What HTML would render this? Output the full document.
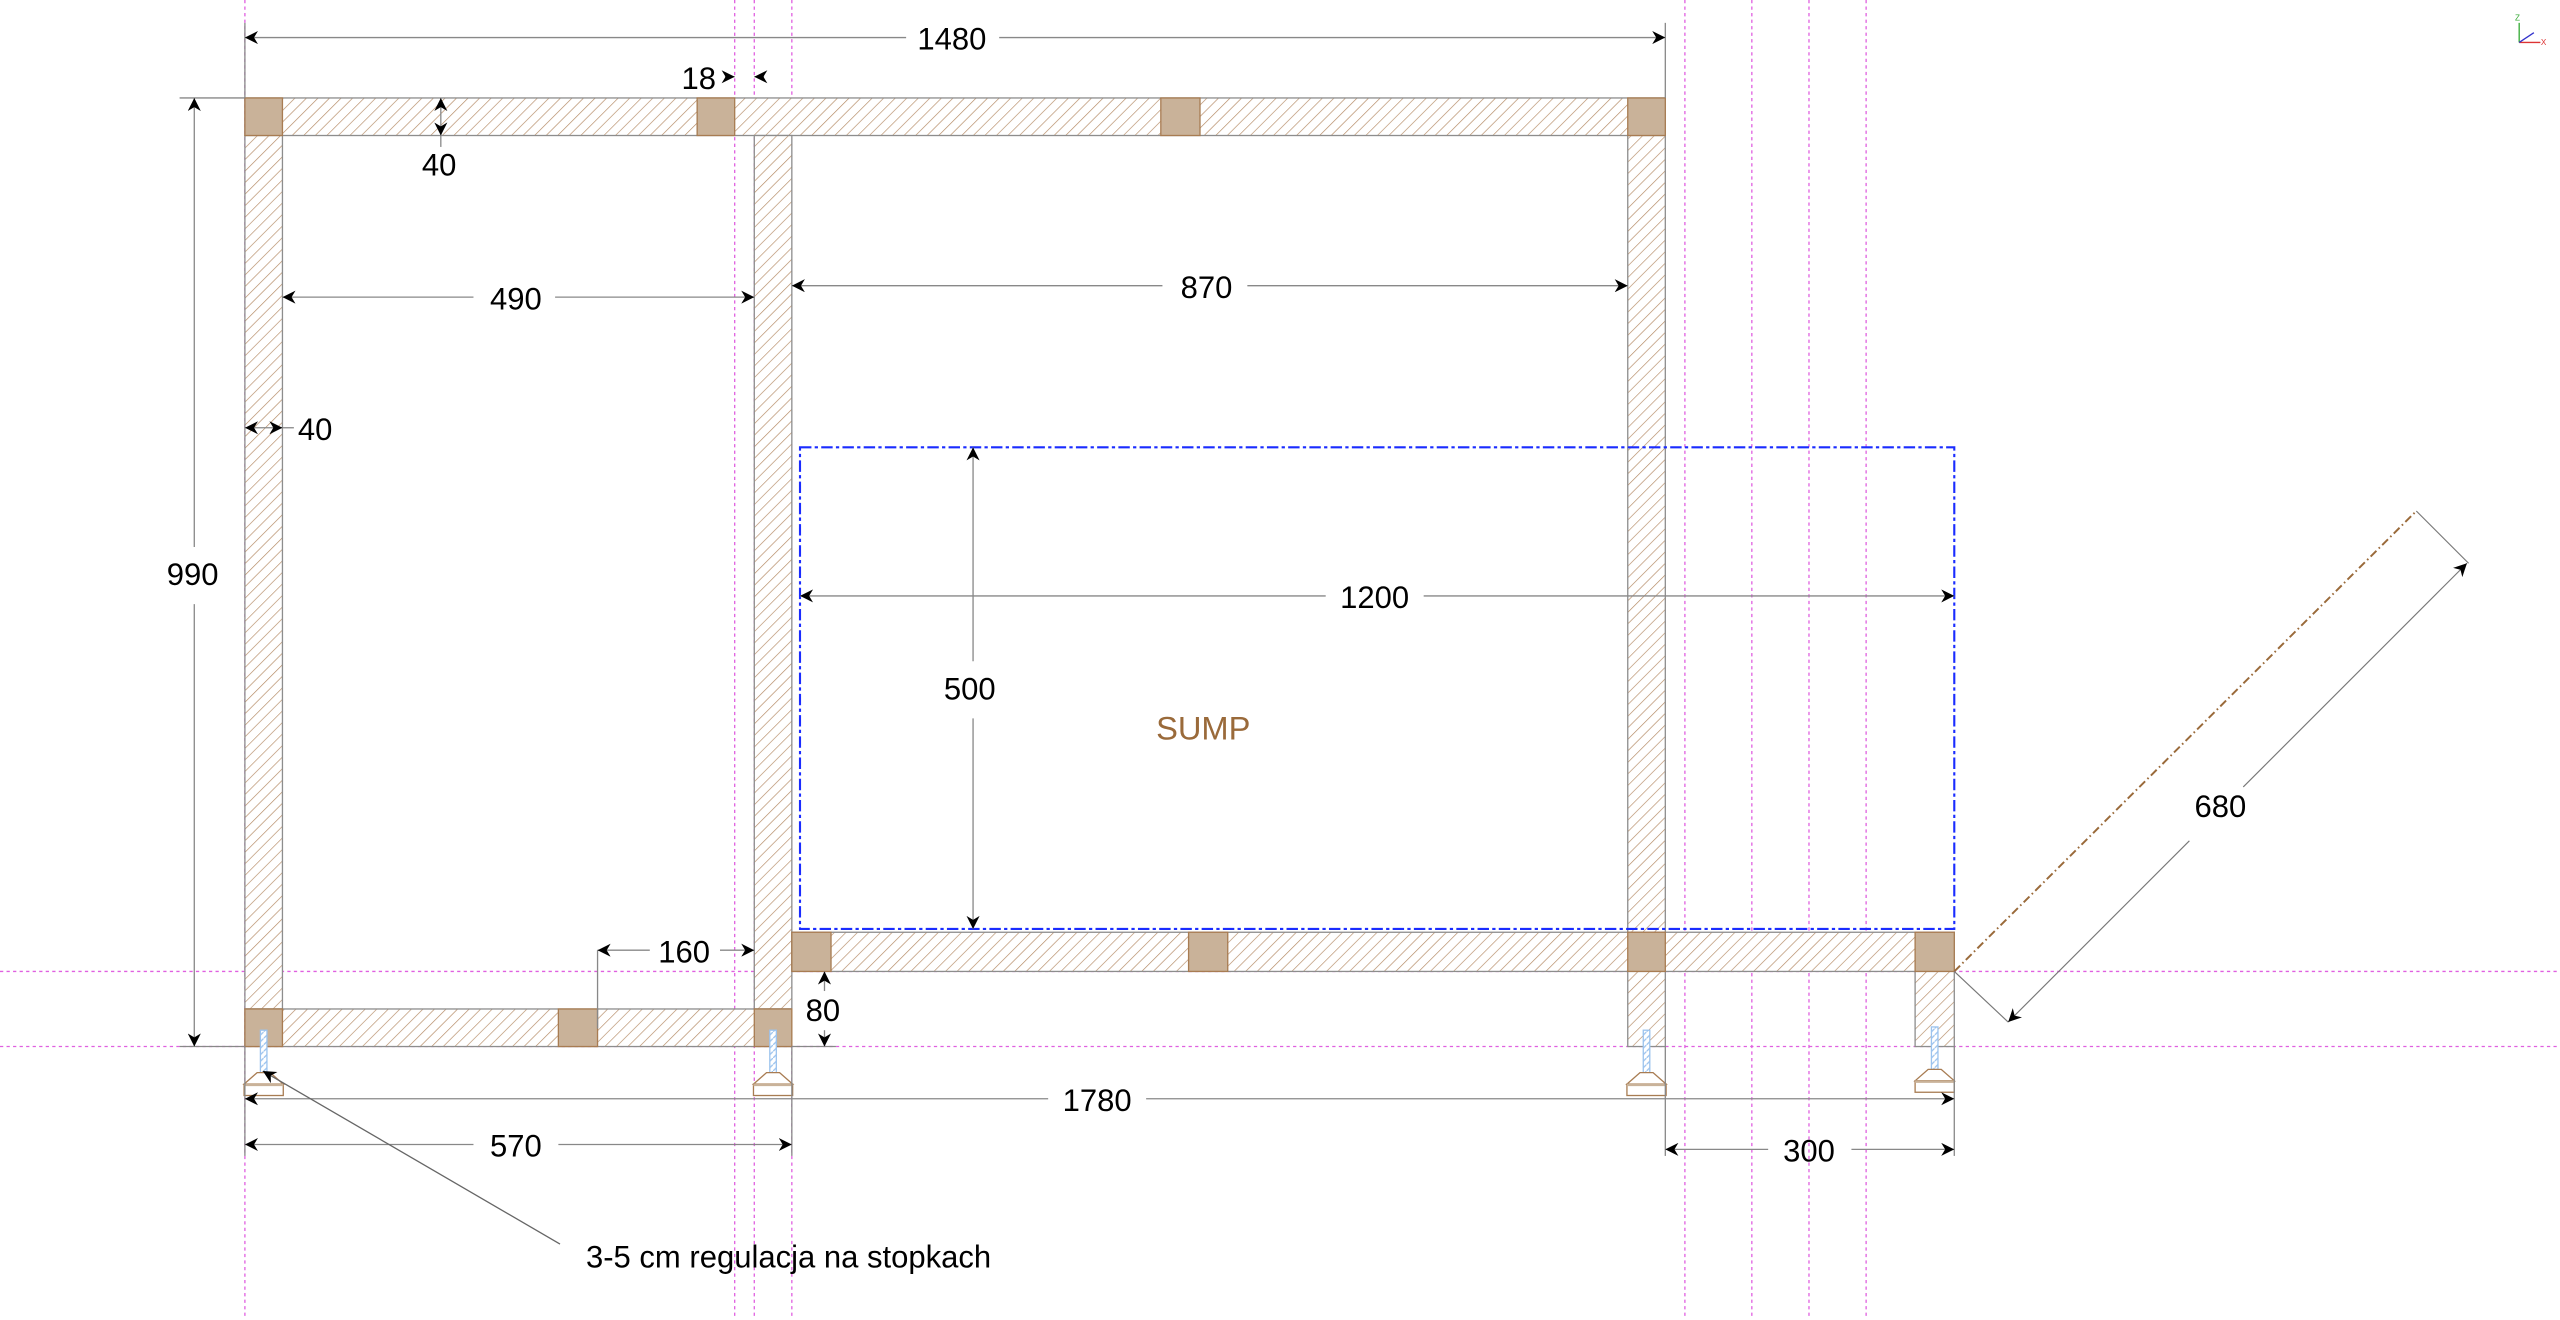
<!DOCTYPE html>
<html><head><meta charset="utf-8"><style>
html,body{margin:0;padding:0;background:#fff;width:2560px;height:1320px;overflow:hidden}
svg{display:block}
text{font-family:"Liberation Sans",Arial,sans-serif;font-size:19px;fill:#000;text-anchor:middle;dominant-baseline:central}
</style></head><body>
<svg width="2560" height="1320" viewBox="0 0 1568 808.5" preserveAspectRatio="none" xmlns="http://www.w3.org/2000/svg">
<defs>
<pattern id="h" patternUnits="userSpaceOnUse" width="5" height="5" patternTransform="rotate(45)">
<rect width="5" height="5" fill="#fff"/><line x1="0" y1="0" x2="0" y2="5" stroke="#b48a64" stroke-width="0.8"/>
</pattern>
<pattern id="b" patternUnits="userSpaceOnUse" width="4" height="4">
<rect width="4" height="4" fill="#fff"/><line x1="0" y1="4" x2="4" y2="0" stroke="#9cc3ee" stroke-width="0.8"/>
</pattern>
<marker id="a" viewBox="0 0 10 10" refX="10" refY="5" markerWidth="8" markerHeight="8" orient="auto-start-reverse" markerUnits="userSpaceOnUse">
<path d="M0,0 L10,5 L0,10 L3,5z" fill="#000"/></marker>
<g id="foot" stroke="#a87c52" stroke-width="0.8">
<rect x="-2" y="631" width="4" height="26" fill="url(#b)" stroke="#9cc3ee"/>
<path d="M-4,657 L4,657 L12,664 L-12,664z" fill="#fff"/>
<rect x="-12" y="664" width="24" height="7" fill="#fff"/>
<line x1="-12" y1="664.5" x2="12" y2="664.5" stroke="#c9b299" stroke-width="1.5"/>
</g>
</defs>

<!-- magenta guides -->
<g stroke="#e060e0" stroke-width="0.8" stroke-dasharray="2,2">
<line x1="150" y1="0" x2="150" y2="808"/><line x1="450" y1="0" x2="450" y2="808"/>
<line x1="462" y1="0" x2="462" y2="808"/><line x1="485" y1="0" x2="485" y2="808"/>
<line x1="1032" y1="0" x2="1032" y2="808"/><line x1="1073" y1="0" x2="1073" y2="808"/>
<line x1="1108" y1="0" x2="1108" y2="808"/><line x1="1143" y1="0" x2="1143" y2="808"/>
<line x1="0" y1="595" x2="1568" y2="595"/><line x1="0" y1="641" x2="1568" y2="641"/>
</g>

<!-- frame members -->
<g stroke="#8d8d8d" stroke-width="0.8" fill="url(#h)">
<rect x="150" y="60" width="870" height="23"/>
<rect x="150" y="83" width="23" height="535"/>
<rect x="462" y="83" width="23" height="535"/>
<rect x="997" y="83" width="23" height="558"/>
<rect x="485" y="571" width="712" height="24"/>
<rect x="1173" y="595" width="24" height="46"/>
<rect x="150" y="618" width="335" height="23"/>
</g>
<g stroke="#a87c52" stroke-width="0.8" fill="#c9b299">
<rect x="150" y="60" width="23" height="23"/><rect x="427" y="60" width="23" height="23"/>
<rect x="711" y="60" width="24" height="23"/><rect x="997" y="60" width="23" height="23"/>
<rect x="485" y="571" width="24" height="24"/><rect x="728" y="571" width="24" height="24"/>
<rect x="997" y="571" width="23" height="24"/><rect x="1173" y="571" width="24" height="24"/>
<rect x="150" y="618" width="23" height="23"/><rect x="342" y="618" width="24" height="23"/>
<rect x="462" y="618" width="23" height="23"/>
</g>

<!-- feet -->
<use href="#foot" transform="translate(161.5,0)"/>
<use href="#foot" transform="translate(473.5,0)"/>
<use href="#foot" transform="translate(1008.5,0)"/>
<use href="#foot" transform="translate(1185,-2)"/>

<!-- sump -->
<rect x="490" y="274" width="707" height="295" fill="none" stroke="#1a2cff" stroke-width="1.3" stroke-dasharray="7,2,2,2"/>
<text x="737" y="446" style="fill:#9a6a3a;font-size:20px">SUMP</text>

<!-- 680 diagonal -->
<line x1="1197" y1="595" x2="1480" y2="313" stroke="#9a6a3a" stroke-width="1.2" stroke-dasharray="5,2,1,2"/>
<g stroke="#777" stroke-width="0.7" fill="none">
<line x1="1197" y1="595" x2="1230" y2="626"/><line x1="1480" y1="313" x2="1512" y2="345"/>
<line x1="1230" y1="626" x2="1341" y2="515" marker-start="url(#a)"/>
<line x1="1374" y1="482" x2="1511" y2="345" marker-end="url(#a)"/>
</g>
<text x="1360" y="494">680</text>

<!-- dimension lines -->
<g stroke="#888" stroke-width="0.8" fill="none">
<line x1="150" y1="14" x2="150" y2="60"/><line x1="1020" y1="14" x2="1020" y2="60"/>
<line x1="150" y1="23" x2="555" y2="23" marker-start="url(#a)"/><line x1="612" y1="23" x2="1020" y2="23" marker-end="url(#a)"/>
<line x1="444" y1="47" x2="450" y2="47" marker-end="url(#a)"/><line x1="462" y1="47" x2="468" y2="47" marker-start="url(#a)"/>
<line x1="270" y1="60" x2="270" y2="83" marker-start="url(#a)" marker-end="url(#a)"/><line x1="270" y1="83" x2="270" y2="90"/>
<line x1="110" y1="60" x2="150" y2="60"/><line x1="110" y1="641" x2="150" y2="641"/>
<line x1="119" y1="60" x2="119" y2="335" marker-start="url(#a)"/><line x1="119" y1="370" x2="119" y2="641" marker-end="url(#a)"/>
<line x1="173" y1="182" x2="290" y2="182" marker-start="url(#a)"/><line x1="340" y1="182" x2="462" y2="182" marker-end="url(#a)"/>
<line x1="485" y1="175" x2="712" y2="175" marker-start="url(#a)"/><line x1="764" y1="175" x2="997" y2="175" marker-end="url(#a)"/>
<line x1="150" y1="262" x2="173" y2="262" marker-start="url(#a)" marker-end="url(#a)"/><line x1="173" y1="262" x2="180" y2="262"/>
<line x1="490" y1="365" x2="812" y2="365" marker-start="url(#a)"/><line x1="872" y1="365" x2="1197" y2="365" marker-end="url(#a)"/>
<line x1="596" y1="274" x2="596" y2="405" marker-start="url(#a)"/><line x1="596" y1="440" x2="596" y2="569" marker-end="url(#a)"/>
<line x1="366" y1="582" x2="366" y2="630"/>
<line x1="366" y1="582" x2="398" y2="582" marker-start="url(#a)"/><line x1="441" y1="582" x2="462" y2="582" marker-end="url(#a)"/>
<line x1="485" y1="641" x2="512" y2="641"/>
<line x1="505" y1="595" x2="505" y2="607" marker-start="url(#a)"/><line x1="505" y1="631" x2="505" y2="641" marker-end="url(#a)"/>
<line x1="150" y1="641" x2="150" y2="708"/><line x1="1197" y1="641" x2="1197" y2="708"/>
<line x1="485" y1="641" x2="485" y2="708"/><line x1="1020" y1="641" x2="1020" y2="708"/>
<line x1="150" y1="673" x2="642" y2="673" marker-start="url(#a)"/><line x1="702" y1="673" x2="1197" y2="673" marker-end="url(#a)"/>
<line x1="150" y1="701" x2="290" y2="701" marker-start="url(#a)"/><line x1="342" y1="701" x2="485" y2="701" marker-end="url(#a)"/>
<line x1="1020" y1="704" x2="1083" y2="704" marker-start="url(#a)"/><line x1="1134" y1="704" x2="1197" y2="704" marker-end="url(#a)"/>
<line x1="343" y1="762" x2="161" y2="656" stroke="#666" marker-end="url(#a)"/>
</g>

<text x="583" y="24">1480</text>
<text x="428" y="48">18</text>
<text x="269" y="101">40</text>
<text x="118" y="352">990</text>
<text x="316" y="183">490</text>
<text x="739" y="176">870</text>
<text x="193" y="263">40</text>
<text x="842" y="366">1200</text>
<text x="594" y="422">500</text>
<text x="419" y="583">160</text>
<text x="504" y="619">80</text>
<text x="672" y="674">1780</text>
<text x="316" y="702">570</text>
<text x="1108" y="705">300</text>
<text x="483" y="770">3-5 cm regulacja na stopkach</text>

<g stroke-width="0.8">
<line x1="1543" y1="26" x2="1556" y2="26" stroke="#d33"/>
<line x1="1543" y1="26" x2="1543" y2="14" stroke="#3a3"/>
<line x1="1543" y1="26" x2="1552" y2="20" stroke="#33c"/>
</g>
<text x="1542" y="11" style="font-size:5px;fill:#3a3">Z</text>
<text x="1558" y="26" style="font-size:5px;fill:#d33">X</text>
</svg>
</body></html>
